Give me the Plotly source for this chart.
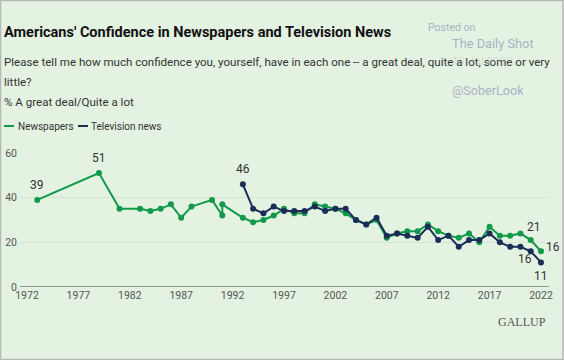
import plotly.graph_objects as go

# ---- data ----
news_years = [1973, 1979, 1981, 1983, 1984, 1985, 1986, 1987, 1988, 1990, 1991, 1991,
              1993, 1994, 1995, 1996, 1997, 1998, 1999, 2000, 2001, 2002, 2003, 2004,
              2005, 2006, 2007, 2008, 2009, 2010, 2011, 2012, 2013, 2014, 2015, 2016,
              2017, 2018, 2019, 2020, 2021, 2022]
news_values = [39, 51, 35, 35, 34, 35, 37, 31, 36, 39, 32, 37,
               31, 29, 30, 32, 35, 33, 33, 37, 36, 35, 33, 30,
               28, 30, 22, 24, 25, 25, 28, 25, 23, 22, 24, 20,
               27, 23, 23, 24, 21, 16]

tv_years = [1993, 1994, 1995, 1996, 1997, 1998, 1999, 2000, 2001, 2002, 2003, 2004,
            2005, 2006, 2007, 2008, 2009, 2010, 2011, 2012, 2013, 2014, 2015, 2016,
            2017, 2018, 2019, 2020, 2021, 2022]
tv_values = [46, 35, 33, 36, 34, 34, 34, 36, 34, 35, 35, 30,
             28, 31, 23, 24, 23, 22, 27, 21, 23, 18, 21, 21,
             24, 20, 18, 18, 16, 11]

x_ticks = [1972, 1977, 1982, 1987, 1992, 1997, 2002, 2007, 2012, 2017, 2022]
y_ticks = [0, 20, 40, 60]

GREEN = "#12994a"
NAVY = "#1b2d57"
BG = "#e3f2e1"
FONT = "Roboto, 'Noto Sans', sans-serif"

# layout geometry (pixels)
W, H = 564, 360
L, R, T, B = 20, 15, 153, 73
PW, PH = W - L - R, H - T - B


def px(xp):
    return (xp - L) / PW


def py(yp):
    return (H - B - yp) / PH


fig = go.Figure()
fig.add_trace(go.Scatter(x=news_years, y=news_values, mode="lines+markers",
                         line=dict(color=GREEN, width=2), marker=dict(color=GREEN, size=6),
                         showlegend=False, cliponaxis=False))
fig.add_trace(go.Scatter(x=tv_years, y=tv_values, mode="lines+markers",
                         line=dict(color=NAVY, width=2), marker=dict(color=NAVY, size=6),
                         showlegend=False, cliponaxis=False))

ann = []
# data labels
lab_font = dict(family=FONT, size=12, color="#333333")
ann.append(dict(x=news_years[0], y=news_values[0], text=str(news_values[0]), xref="x", yref="y",
                showarrow=False, yshift=15, font=lab_font))
ann.append(dict(x=news_years[1], y=news_values[1], text=str(news_values[1]), xref="x", yref="y",
                showarrow=False, yshift=15, font=lab_font))
ann.append(dict(x=tv_years[0], y=tv_values[0], text=str(tv_values[0]), xref="x", yref="y",
                showarrow=False, yshift=15, font=lab_font))
ann.append(dict(x=news_years[-2], y=news_values[-2], text=str(news_values[-2]), xref="x", yref="y",
                showarrow=False, yshift=13, xshift=3, font=lab_font))
ann.append(dict(x=news_years[-1], y=news_values[-1], text=str(news_values[-1]), xref="x", yref="y",
                showarrow=False, xshift=12, yshift=4, font=lab_font))
ann.append(dict(x=tv_years[-2], y=tv_values[-2], text=str(tv_values[-2]), xref="x", yref="y",
                showarrow=False, xshift=-6, yshift=-8, font=lab_font))
ann.append(dict(x=tv_years[-1], y=tv_values[-1], text=str(tv_values[-1]), xref="x", yref="y",
                showarrow=False, yshift=-14, font=lab_font))

# titles
ann.append(dict(x=px(2), y=py(32), xref="paper", yref="paper", xanchor="left", yanchor="middle",
                showarrow=False, text="<b>Americans' Confidence in Newspapers and Television News</b>",
                font=dict(family=FONT, size=14.5, color="#111111")))
sub_font = dict(family=FONT, size=11.55, color="#333333")
ann.append(dict(x=px(2), y=py(62), xref="paper", yref="paper", xanchor="left", yanchor="middle",
                showarrow=False,
                text="Please tell me how much confidence you, yourself, have in each one -- a great deal, quite a lot, some or very",
                font=sub_font))
ann.append(dict(x=px(2), y=py(82), xref="paper", yref="paper", xanchor="left", yanchor="middle",
                showarrow=False, text="little?", font=sub_font))
ann.append(dict(x=px(2), y=py(102), xref="paper", yref="paper", xanchor="left", yanchor="middle",
                showarrow=False, text="% A great deal/Quite a lot", font=sub_font))

# legend
leg_font = dict(family=FONT, size=10, color="#333333")
ann.append(dict(x=px(16), y=py(126), xref="paper", yref="paper", xanchor="left", yanchor="middle",
                showarrow=False, text="Newspapers", font=leg_font))
ann.append(dict(x=px(89), y=py(126), xref="paper", yref="paper", xanchor="left", yanchor="middle",
                showarrow=False, text="Television news", font=leg_font))

# watermark
wm = "#aab3c6"
ann.append(dict(x=px(426), y=py(27), xref="paper", yref="paper", xanchor="left", yanchor="middle",
                showarrow=False, text="Posted on", font=dict(family=FONT, size=10.5, color=wm)))
ann.append(dict(x=px(450), y=py(43), xref="paper", yref="paper", xanchor="left", yanchor="middle",
                showarrow=False, text="The Daily Shot", font=dict(family=FONT, size=12.8, color=wm)))
ann.append(dict(x=px(450), y=py(61), xref="paper", yref="paper", xanchor="left", yanchor="middle",
                showarrow=False, text="13-Jul-2022",
                font=dict(family=FONT, size=11.5, color="rgba(170,179,198,0.35)")))
ann.append(dict(x=px(450), y=py(90), xref="paper", yref="paper", xanchor="left", yanchor="middle",
                showarrow=False, text="@SoberLook", font=dict(family=FONT, size=12.6, color=wm)))

# GALLUP
ann.append(dict(x=px(548), y=py(322), xref="paper", yref="paper", xanchor="right", yanchor="middle",
                showarrow=False, text="GALLUP",
                font=dict(family="Liberation Serif, serif", size=12, color="#555555")))

shapes = [
    dict(type="line", xref="paper", yref="paper", x0=px(4), x1=px(14), y0=py(126), y1=py(126),
         line=dict(color=GREEN, width=2)),
    dict(type="line", xref="paper", yref="paper", x0=px(78), x1=px(88), y0=py(126), y1=py(126),
         line=dict(color=NAVY, width=2)),
    dict(type="line", xref="paper", yref="y", x0=0, x1=1, y0=0, y1=0,
         line=dict(color="#6e7e70", width=1.5)),
    dict(type="rect", xref="paper", yref="paper", x0=px(0.5), x1=px(563), y0=py(0.5), y1=py(359.5),
         line=dict(color="#b8b8b8", width=1.5), fillcolor="rgba(0,0,0,0)", layer="below"),
]

fig.update_layout(
    width=W, height=H,
    margin=dict(l=L, r=R, t=T, b=B, autoexpand=False),
    paper_bgcolor=BG, plot_bgcolor=BG,
    annotations=ann, shapes=shapes,
    font=dict(family=FONT, size=11, color="#555555"),
    xaxis=dict(range=[1971.32, 2022.78], tickvals=x_ticks, ticktext=[str(v) for v in x_ticks],
               showgrid=False, zeroline=False, showline=False, ticks="", automargin=False,
               tickfont=dict(family=FONT, size=10.5, color="#555555"), fixedrange=True),
    yaxis=dict(range=[0, 60], tickvals=y_ticks, showgrid=True, gridcolor="#d3e4d1", gridwidth=1,
               zeroline=False, showline=False, ticks="", automargin=False, ticklabelstandoff=2,
               tickfont=dict(family=FONT, size=10.5, color="#555555"), fixedrange=True),
    showlegend=False,
)

fig.write_html("out.html", config={"displayModeBar": False},
               post_script="document.body.style.margin='0';document.body.style.padding='0';")
